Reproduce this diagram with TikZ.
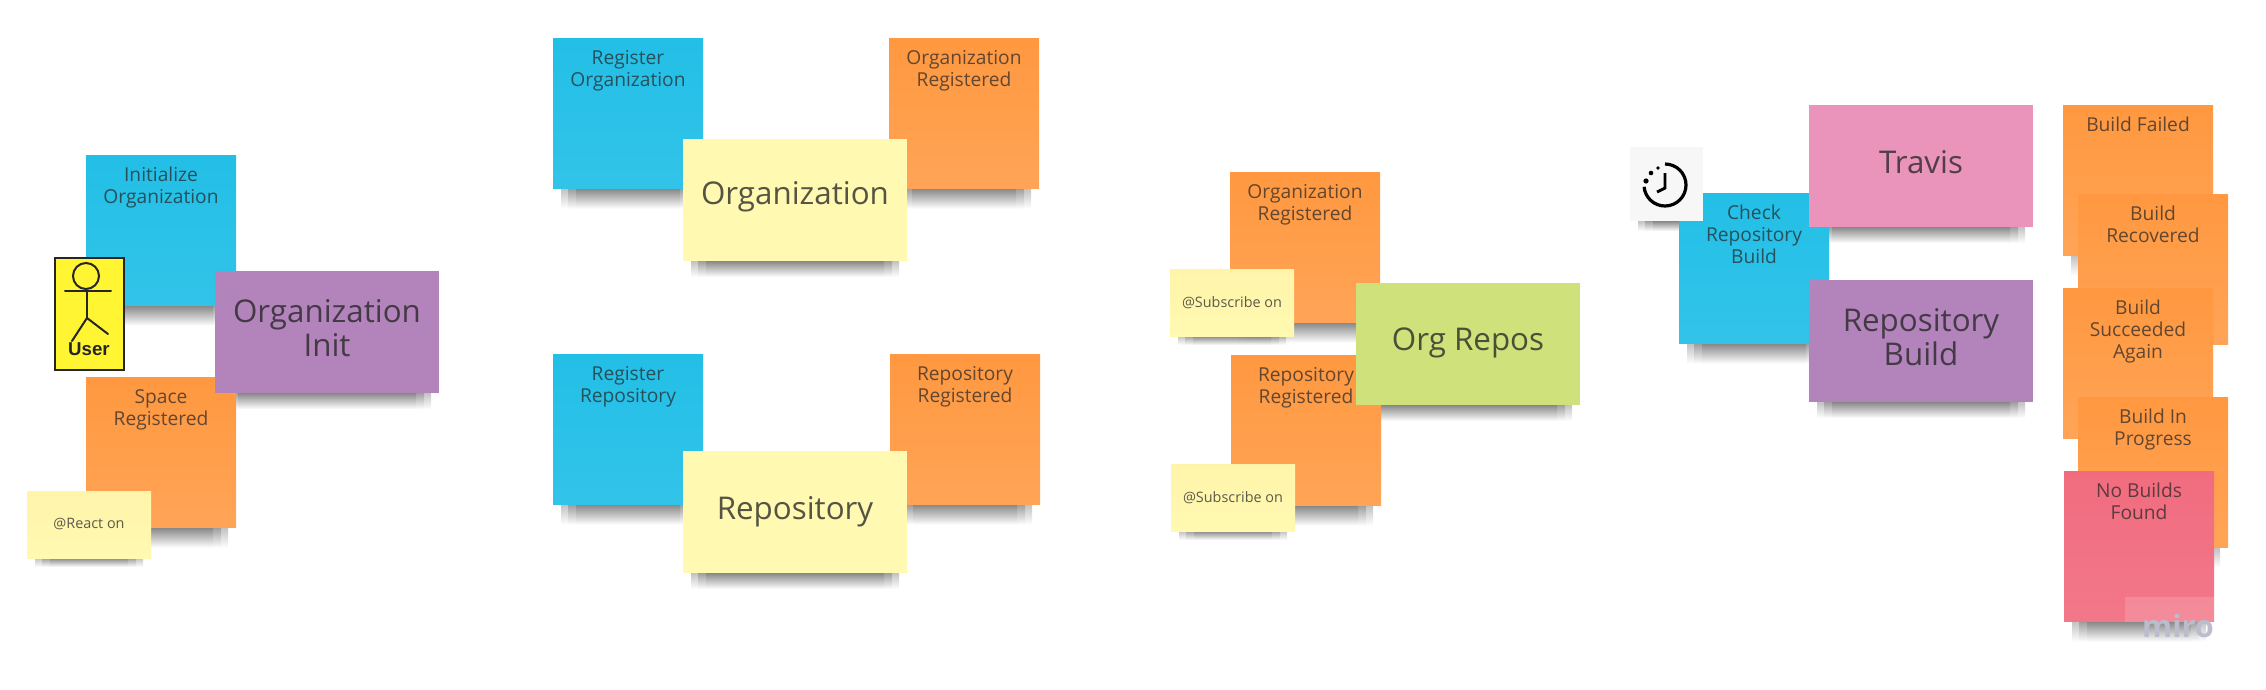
\documentclass[tikz,border=0pt]{standalone}
\usepackage{fontspec}
\setmainfont{Open Sans}
\newfontfamily\userfont{Liberation Sans}
\usetikzlibrary{positioning,calc,backgrounds}
\definecolor{noteblue}{HTML}{23BFE7}
\definecolor{noteorange}{HTML}{FF9840}
\definecolor{notepurple}{HTML}{B384BB}
\definecolor{noteyellow}{HTML}{FFF9B1}
\definecolor{notepink}{HTML}{EA94BB}
\definecolor{notegreen}{HTML}{CFE17A}
\definecolor{notered}{HTML}{F16C7F}
\definecolor{miroink}{HTML}{BCBCCF}
\tikzset{
    sticky/.style={anchor=north west, inner sep=0pt, outer sep=0pt},
    squarenote/.style={sticky, minimum width=112.5pt, minimum height=113pt},
    widenote/.style={sticky, minimum width=168pt, minimum height=91.5pt, text=black!85, text opacity=.78, font=\fontsize{23.5}{26}\selectfont, align=center},
    tagnote/.style={sticky, minimum width=93pt, minimum height=50.25pt, text=black!85, text opacity=.75, font=\fontsize{10.8}{13}\selectfont, top color=noteyellow!96!orange, bottom color=noteyellow},
    notetext/.style={inner sep=0pt, align=center, text=black!85, text opacity=.72, font=\fontsize{14.4}{16.5}\selectfont},
    bluenote/.style={top color=noteblue, bottom color=noteblue!93!white},
    orangenote/.style={top color=noteorange, bottom color=noteorange!88!white},
    purplenote/.style={fill=notepurple},
    yellownote/.style={fill=noteyellow},
    pinknote/.style={fill=notepink},
    greennote/.style={fill=notegreen},
    rednote/.style={top color=notered, bottom color=notered!92!white},
    figureline/.style={line width=1.5pt, black!85, line cap=round},
    stickyshadow/.style={top color=black!60, bottom color=white, opacity=.4},
}
\begin{document}
\begin{tikzpicture}[x=0.75pt,y=0.75pt,yscale=-1,xscale=1]
    \useasboundingbox (0,0) rectangle (2266,689);

    % organization init
    \node[squarenote, bluenote] (initorg) at (86,155) {};
    \node[notetext, below=9pt of initorg.north] (initorgtext) {Initialize\\Organization};
    \node[draw=black!85, line width=1.5pt, fill=yellow!80!white, anchor=north west, inner sep=0pt, minimum width=52pt, minimum height=84pt] (userbox) at (54,257) {};
    \draw[figureline] (86,276) circle (13);
    \draw[figureline] (65,291) -- (111,291);
    \draw[figureline] (87,291) -- (87,318);
    \draw[figureline] (72,341) -- (87,318) -- (108,334);
    \node[font=\userfont\bfseries\fontsize{14}{16}\selectfont, text=black!85] (usertext) at (89,349) {User};
    \node[squarenote, orangenote] (spacereg) at (86,377) {};
    \node[notetext, below=9pt of spacereg.north] (spaceregtext) {Space\\Registered};
    \node[widenote, purplenote, text depth=6pt] (orginit) at (215,271) {Organization\\Init};
    \node[tagnote] (reacton) at (27,491) {@React on};

    % organization and repository
    \node[squarenote, bluenote] (regorg) at (553,38) {};
    \node[notetext, below=9pt of regorg.north] (regorgtext) {Register\\Organization};
    \node[squarenote, orangenote] (orgreg) at (889,38) {};
    \node[notetext, below=9pt of orgreg.north] (orgregtext) {Organization\\Registered};
    \node[widenote, yellownote, text depth=11pt] (orgaggr) at (683,139) {Organization};
    \node[squarenote, bluenote] (regrepo) at (553,354) {};
    \node[notetext, below=9pt of regrepo.north] (regrepotext) {Register\\Repository};
    \node[squarenote, orangenote] (reporeg) at (890,354) {};
    \node[notetext, below=9pt of reporeg.north] (reporegtext) {Repository\\Registered};
    \node[widenote, yellownote] (repoaggr) at (683,451) {Repository};

    % org repos
    \node[squarenote, orangenote] (orgreg2) at (1230,172) {};
    \node[notetext, below=9pt of orgreg2.north] (orgreg2text) {Organization\\Registered};
    \node[tagnote] (subscribe1) at (1170,269) {@Subscribe on};
    \node[squarenote, orangenote] (reporeg2) at (1231,355) {};
    \node[notetext, below=9pt of reporeg2.north] (reporeg2text) {Repository\\Registered};
    \node[tagnote] (subscribe2) at (1171,464) {@Subscribe on};
    \node[widenote, greennote, text depth=7.5pt] (orgrepos) at (1356,283) {Org Repos};

    % repository build
    \node[squarenote, bluenote] (checkbuild) at (1679,193) {};
    \node[notetext, below=9pt of checkbuild.north] (checkbuildtext) {Check\\Repository\\Build};
    \node[sticky, fill=black!3, minimum width=55pt, minimum height=55.5pt] (timer) at (1630,147) {};
    \draw[line width=2.4pt, black] (1665,164) arc (-90:175:21);
    \fill[black] (1646,181) circle (2.6) (1651,173) circle (2.3) (1658,168) circle (1.8);
    \draw[line width=2.2pt, black] (1665,173) -- (1665,188) -- (1657,192);
    \node[widenote, pinknote, text depth=6pt] (travis) at (1809,105) {Travis};
    \node[widenote, purplenote, text depth=6pt] (repobuild) at (1809,280) {Repository\\Build};

    \node[squarenote, orangenote] (buildfailed) at (2063,105) {};
    \node[notetext, below=9pt of buildfailed.north] (buildfailedtext) {Build Failed};
    \node[squarenote, orangenote] (recovered) at (2078,194) {};
    \node[notetext, below=9pt of recovered.north] (recoveredtext) {Build\\Recovered};
    \node[squarenote, orangenote] (succeeded) at (2063,288) {};
    \node[notetext, below=9pt of succeeded.north] (succeededtext) {Build\\Succeeded\\Again};
    \node[squarenote, orangenote] (inprogress) at (2078,397) {};
    \node[notetext, below=9pt of inprogress.north] (inprogresstext) {Build In\\Progress};
    \node[squarenote, rednote] (nobuilds) at (2064,471) {};
    \node[notetext, below=9pt of nobuilds.north] (nobuildstext) {No Builds\\Found};

    % watermark
    \fill[white, opacity=.15] (2125,597) rectangle (2216,622);
    \node[font=\bfseries\fontsize{23}{26}\selectfont, text=miroink] (miro) at (2178,626) {miro};

    % shadows under the notes
    \begin{scope}[on background layer]
        \foreach \n/\drop in {initorg/20,spacereg/20,orginit/16,reacton/9,regorg/20,orgreg/20,orgaggr/16,regrepo/20,reporeg/20,repoaggr/16,orgreg2/20,subscribe1/9,reporeg2/20,subscribe2/9,orgrepos/16,checkbuild/20,timer/10,travis/16,repobuild/16,buildfailed/20,inprogress/20,nobuilds/20}{
            \foreach \inset in {8,15,23}{
                \shade[stickyshadow] ($(\n.south west)+(\inset,0)$) rectangle ($(\n.south east)+(-\inset,\drop)$);
            }
        }
    \end{scope}
\end{tikzpicture}
\end{document}
